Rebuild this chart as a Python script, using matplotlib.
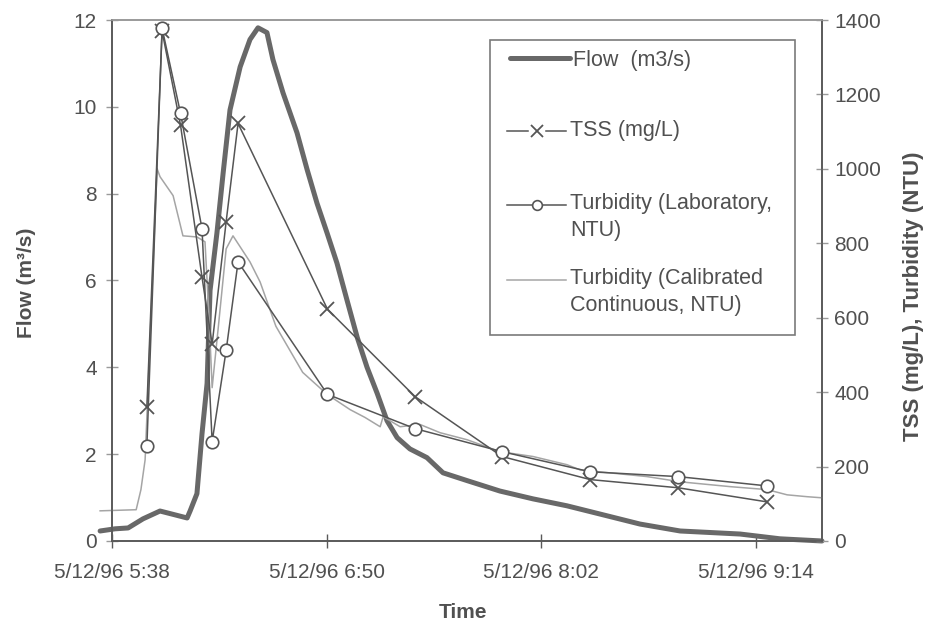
import matplotlib
matplotlib.use("Agg")
import matplotlib.pyplot as plt
from matplotlib.lines import Line2D
from matplotlib.patches import Rectangle

plt.rcParams['font.family'] = ['Liberation Sans', 'DejaVu Sans']

# time axis: minutes after 5/12/96 5:38
flow_t = [-4.0, 1.0, 5.4, 10.4, 16.1, 20.1, 25.2, 26.2, 28.5, 30.2, 31.9, 32.9,
          35.2, 37.3, 39.6, 43.0, 46.3, 49.0, 52.0, 54.0, 57.4, 62.1, 65.5,
          68.8, 72.2, 75.5, 78.9, 82.3, 85.6, 89.0, 92.3, 95.7, 100.0, 105.7,
          111.1, 119.2, 130.2, 141.3, 152.7, 163.8, 177.2, 190.7, 210.8, 224.2, 238.3]
flow_v = [0.23, 0.28, 0.30, 0.51, 0.69, 0.62, 0.53, 0.69, 1.09, 2.47, 3.63, 5.77,
          7.09, 8.48, 9.93, 10.92, 11.55, 11.82, 11.71, 11.09, 10.32, 9.40, 8.55,
          7.78, 7.09, 6.40, 5.54, 4.69, 4.00, 3.40, 2.77, 2.38, 2.12, 1.92,
          1.57, 1.39, 1.15, 0.97, 0.81, 0.62, 0.39, 0.23, 0.16, 0.05, 0.0]

sample_t = [11.7, 16.8, 23.0, 30.2, 33.6, 38.3, 42.3, 72.3, 101.7, 130.9, 160.5, 190.0, 219.9]
tss = [361, 1370, 1117, 709, 529, 858, 1122, 623, 388, 227, 165, 143, 105]
turb_lab = [256, 1378, 1149, 839, 267, 512, 750, 394, 302, 240, 186, 173, 148]

cont_t = [-4.0, 8.1, 9.7, 11.1, 15.1, 16.1, 20.5, 23.8, 28.5, 31.2, 32.6, 33.6,
          35.6, 38.3, 40.6, 46.3, 49.7, 55.0, 64.0, 72.2, 79.9, 84.9, 90.0,
          91.0, 96.7, 103.4, 110.1, 119.2, 130.2, 141.3, 152.7, 157.1, 179.6,
          190.7, 207.5, 219.9, 226.6, 233.3, 238.3]
cont_v = [81, 84, 138, 218, 1001, 979, 928, 820, 817, 804, 596, 412,
          569, 785, 820, 750, 696, 577, 453, 394, 353, 332, 307,
          334, 307, 313, 291, 272, 240, 227, 205, 191, 173,
          159, 146, 138, 124, 119, 116]

xtick_pos = [0, 72, 144, 216]
xtick_labels = ['5/12/96 5:38', '5/12/96 6:50', '5/12/96 8:02', '5/12/96 9:14']
flow_ticks = [0, 2, 4, 6, 8, 10, 12]
conc_ticks = [0, 200, 400, 600, 800, 1000, 1200, 1400]

TXT = '#505050'
SP = '#5a5a5a'
FS = 15
LFS = 15.5

flow_style = dict(color='#686868', lw=3.6, solid_capstyle='round', solid_joinstyle='round')
tss_style = dict(color='#555555', lw=1.1, marker='x', ms=10, mew=1.3)
lab_style = dict(color='#555555', lw=1.1, marker='o', ms=9, mew=1.2, mfc='white')
cont_style = dict(color='#a5a5a5', lw=1.1)

fig = plt.figure(figsize=(9.29, 6.27), dpi=100)
ax = fig.add_axes([0.1206, 0.1372, 0.7642, 0.8309])
ax2 = ax.twinx()

ax.plot(flow_t, flow_v, clip_on=False, zorder=3, **flow_style)
ax2.plot(cont_t, cont_v, clip_on=False, zorder=2, **cont_style)
ax2.plot(sample_t, tss, zorder=3, **tss_style)
ax2.plot(sample_t, turb_lab, zorder=4, **lab_style)

ax.set_xlim(0, 238.3)
ax.set_ylim(0, 12)
ax2.set_ylim(0, 1400)
ax.set_xticks(xtick_pos)
ax.set_xticklabels(xtick_labels)
ax.set_yticks(flow_ticks)
ax2.set_yticks(conc_ticks)

for a in (ax, ax2):
    for s in a.spines.values():
        s.set_color(SP)
        s.set_linewidth(1.2)
    a.spines['top'].set_color('#9a9a9a')
ax.tick_params(axis='x', direction='inout', length=10, width=1, colors=SP,
               labelcolor=TXT, labelsize=FS, pad=11)
ax.tick_params(axis='y', direction='inout', length=8, width=1, colors='#9a9a9a',
               labelcolor=TXT, labelsize=FS, pad=7)
ax2.tick_params(axis='y', direction='inout', length=8, width=1, colors='#9a9a9a',
                labelcolor=TXT, labelsize=FS, pad=5)

fig.text(27/929, 1 - 283/627, 'Flow (m³/s)', rotation=90, ha='center', va='center',
         fontsize=FS, fontweight='bold', color=TXT)
fig.text(914/929, 1 - 296/627, 'TSS (mg/L), Turbidity (NTU)', rotation=90, ha='center',
         va='center', fontsize=16, fontweight='bold', color=TXT)
fig.text(463/929, 1 - 612/627, 'Time', ha='center', va='center',
         fontsize=FS, fontweight='bold', color=TXT)

# legend box (manual to match the layout)
T = ax2.transAxes
ax2.add_patch(Rectangle((0.532, 0.395), 0.430, 0.566, transform=T, fc='white',
                        ec='#7a7a7a', lw=1.2, zorder=10))
ax2.add_line(Line2D([0.561, 0.645], [0.927, 0.927], transform=T, zorder=11, **flow_style))
ax2.text(0.650, 0.923, 'Flow  (m3/s)', transform=T, va='center', ha='left',
         fontsize=LFS, color=TXT, zorder=12)

ax2.add_line(Line2D([0.556, 0.586], [0.787, 0.787], transform=T, zorder=11,
                    color=tss_style['color'], lw=1.1))
ax2.add_line(Line2D([0.611, 0.640], [0.787, 0.787], transform=T, zorder=11,
                    color=tss_style['color'], lw=1.1))
ax2.add_line(Line2D([0.598], [0.787], transform=T, zorder=11, ls='none',
                    marker='x', ms=9, mew=1.3, color=tss_style['color']))
ax2.text(0.645, 0.787, 'TSS (mg/L)', transform=T, va='center', ha='left',
         fontsize=LFS, color=TXT, zorder=12)

ax2.add_line(Line2D([0.556, 0.640], [0.645, 0.645], transform=T, zorder=11,
                    color=lab_style['color'], lw=1.1))
ax2.add_line(Line2D([0.598], [0.645], transform=T, zorder=11, ls='none',
                    marker='o', ms=7, mew=1.2, mfc='white', color=lab_style['color']))
ax2.text(0.645, 0.668, 'Turbidity (Laboratory,\nNTU)', transform=T, va='top', ha='left',
         fontsize=LFS, color=TXT, zorder=12, linespacing=1.4)

ax2.add_line(Line2D([0.556, 0.640], [0.501, 0.501], transform=T, zorder=11, **cont_style))
ax2.text(0.645, 0.524, 'Turbidity (Calibrated\nContinuous, NTU)', transform=T, va='top',
         ha='left', fontsize=LFS, color=TXT, zorder=12, linespacing=1.4)

fig.savefig('out.png', dpi=100, facecolor='white')
